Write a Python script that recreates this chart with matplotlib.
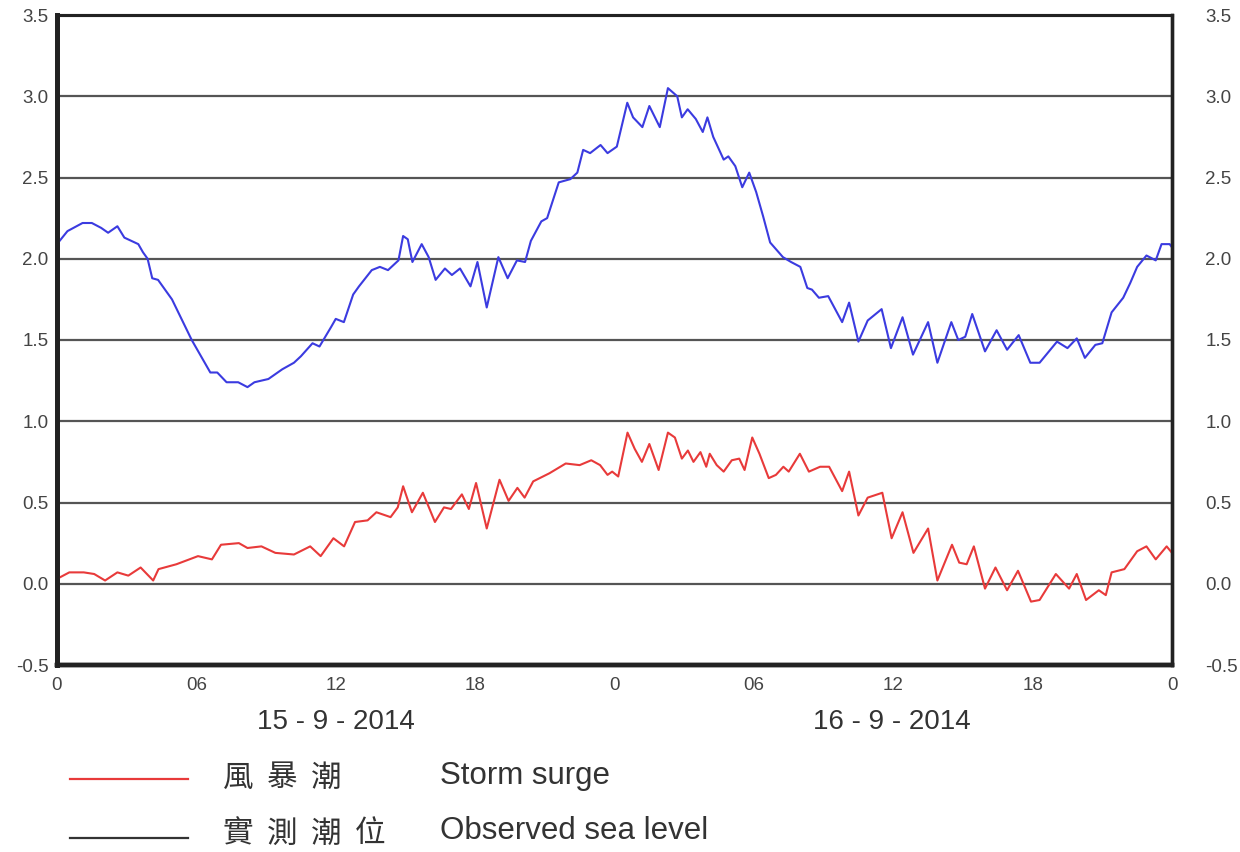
import matplotlib.pyplot as plt

# hours from 00:00 on 15-9-2014
BLUE_H = [0.0, 0.45, 1.1, 1.5, 1.9, 2.2, 2.6, 2.9, 3.5, 3.7, 3.9, 4.1, 4.35, 4.95, 5.8, 6.6, 6.9, 7.3, 7.8,
          8.2, 8.5, 9.1, 9.7, 10.2, 10.5, 11.0, 11.3, 11.8, 12.0, 12.35, 12.75, 13.0, 13.55, 13.9, 14.25,
          14.7, 14.9, 15.1, 15.3, 15.7, 16.0, 16.3, 16.7, 17.0, 17.35, 17.8, 18.1, 18.5, 19.0, 19.4, 19.8,
          20.15, 20.4, 20.85, 21.1, 21.6, 22.1, 22.4, 22.65, 22.95, 23.4, 23.7, 24.1, 24.55, 24.8, 25.2,
          25.5, 25.95, 26.3, 26.7, 26.9, 27.15, 27.5, 27.8, 28.0, 28.25, 28.7, 28.9, 29.2, 29.5, 29.8,
          30.1, 30.4, 30.7, 31.25, 31.6, 32.0, 32.3, 32.5, 32.8, 33.2, 33.8, 34.1, 34.5, 34.9, 35.5,
          35.9, 36.4, 36.85, 37.5, 37.9, 38.5, 38.8, 39.1, 39.4, 39.95, 40.45, 40.9, 41.4, 41.9, 42.3,
          43.05, 43.5, 43.9, 44.25, 44.7, 45.0, 45.4, 45.9, 46.2, 46.5, 46.9, 47.3, 47.55, 47.9, 48.0]
BLUE_V = [2.09, 2.17, 2.22, 2.22, 2.19, 2.16, 2.20, 2.13, 2.09, 2.04, 2.00, 1.88, 1.87, 1.75, 1.50, 1.30, 1.30,
          1.24, 1.24, 1.21, 1.24, 1.26, 1.32, 1.36, 1.40, 1.48, 1.46, 1.58, 1.63, 1.61, 1.78, 1.83, 1.93,
          1.95, 1.93, 1.99, 2.14, 2.12, 1.98, 2.09, 2.01, 1.87, 1.94, 1.90, 1.94, 1.83, 1.98, 1.70, 2.01,
          1.88, 1.99, 1.98, 2.11, 2.23, 2.25, 2.47, 2.49, 2.53, 2.67, 2.65, 2.70, 2.65, 2.69, 2.96, 2.87,
          2.81, 2.94, 2.81, 3.05, 3.00, 2.87, 2.92, 2.86, 2.78, 2.87, 2.75, 2.61, 2.63, 2.57, 2.44, 2.53,
          2.41, 2.26, 2.10, 2.01, 1.98, 1.95, 1.82, 1.81, 1.76, 1.77, 1.61, 1.73, 1.49, 1.62, 1.69, 1.45,
          1.64, 1.41, 1.61, 1.36, 1.61, 1.50, 1.52, 1.66, 1.43, 1.56, 1.44, 1.53, 1.36, 1.36, 1.49, 1.45,
          1.51, 1.39, 1.47, 1.48, 1.67, 1.76, 1.85, 1.95, 2.02, 1.99, 2.09, 2.09, 2.07]

RED_H = [0.0, 0.53, 1.15, 1.6, 2.07, 2.6, 3.07, 3.6, 4.14, 4.37, 5.14, 6.07, 6.67, 7.06, 7.83, 8.2, 8.8, 9.4,
         10.2, 10.9, 11.35, 11.9, 12.36, 12.83, 13.37, 13.75, 14.36, 14.67, 14.9, 15.28, 15.75, 16.27,
         16.66, 16.96, 17.43, 17.73, 18.04, 18.5, 19.05, 19.44, 19.82, 20.13, 20.5, 21.2, 21.9, 22.5, 23.0,
         23.38, 23.7, 23.9, 24.16, 24.56, 24.87, 25.18, 25.5, 25.9, 26.3, 26.6, 26.9, 27.16, 27.4, 27.7,
         27.95, 28.1, 28.4, 28.7, 29.05, 29.37, 29.6, 29.93, 30.24, 30.64, 30.95, 31.27, 31.5, 31.98,
         32.37, 32.85, 33.24, 33.8, 34.1, 34.5, 34.9, 35.53, 35.93, 36.4, 36.87, 37.5, 37.9, 38.53, 38.84,
         39.16, 39.47, 39.95, 40.4, 40.9, 41.37, 41.93, 42.3, 43.0, 43.57, 43.9, 44.3, 44.85, 45.15, 45.4,
         45.95, 46.5, 46.9, 47.3, 47.77, 48.0]
RED_V = [0.03, 0.07, 0.07, 0.06, 0.02, 0.07, 0.05, 0.10, 0.02, 0.09, 0.12, 0.17, 0.15, 0.24, 0.25, 0.22, 0.23,
         0.19, 0.18, 0.23, 0.17, 0.28, 0.23, 0.38, 0.39, 0.44, 0.41, 0.47, 0.60, 0.44, 0.56, 0.38, 0.47,
         0.46, 0.55, 0.46, 0.62, 0.34, 0.64, 0.51, 0.59, 0.53, 0.63, 0.68, 0.74, 0.73, 0.76, 0.73, 0.67,
         0.69, 0.66, 0.93, 0.83, 0.75, 0.86, 0.70, 0.93, 0.90, 0.77, 0.82, 0.75, 0.81, 0.72, 0.80, 0.73,
         0.69, 0.76, 0.77, 0.70, 0.90, 0.80, 0.65, 0.67, 0.72, 0.69, 0.80, 0.69, 0.72, 0.72, 0.57, 0.69,
         0.42, 0.53, 0.56, 0.28, 0.44, 0.19, 0.34, 0.02, 0.24, 0.13, 0.12, 0.23, -0.03, 0.10, -0.04, 0.08,
         -0.11, -0.10, 0.06, -0.03, 0.06, -0.10, -0.04, -0.07, 0.07, 0.09, 0.20, 0.23, 0.15, 0.23, 0.19]

X_TICKS = [0, 6, 12, 18, 24, 30, 36, 42, 48]
X_LABELS = ['0', '06', '12', '18', '0', '06', '12', '18', '0']
Y_TICKS = [-0.5, 0.0, 0.5, 1.0, 1.5, 2.0, 2.5, 3.0, 3.5]
DATES = ['15 - 9 - 2014', '16 - 9 - 2014']

plt.rcParams['font.family'] = ['Liberation Sans', 'DejaVu Sans']
W, H = 1240, 852
fig = plt.figure(figsize=(W / 100, H / 100), dpi=100)
ax = fig.add_axes([57 / W, 1 - 665 / H, (1172 - 57) / W, (665 - 15) / H])

ax.set_xlim(0, 48)
ax.set_ylim(-0.5, 3.5)
for y in Y_TICKS[1:-1]:
    ax.axhline(y, color='#555555', lw=1.6, zorder=1)

ax.plot(BLUE_H, BLUE_V, color='#3b3be0', lw=1.5, zorder=3, solid_joinstyle='round')
ax.plot(RED_H, RED_V, color='#e83a3a', lw=1.5, zorder=3, solid_joinstyle='round')

ax.set_xticks(X_TICKS)
ax.set_xticklabels(X_LABELS)
ax.set_yticks(Y_TICKS)
ax.set_yticklabels([f'{v:.1f}' for v in Y_TICKS])
ax.tick_params(axis='both', length=0, labelsize=13.5, labelcolor='#444444')
ax.tick_params(axis='x', pad=9)
ax.tick_params(axis='y', pad=6)

ax2 = ax.twinx()
ax2.set_ylim(-0.5, 3.5)
ax2.set_yticks(Y_TICKS)
ax2.set_yticklabels([f'{v:.1f}' for v in Y_TICKS])
ax2.tick_params(axis='y', length=0, labelsize=13.5, labelcolor='#444444', pad=24)

for a in (ax, ax2):
    a.spines['left'].set_linewidth(3.5)
    a.spines['bottom'].set_linewidth(3.2)
    a.spines['right'].set_linewidth(2.4)
    a.spines['top'].set_linewidth(2.2)
    for s in a.spines.values():
        s.set_color('#222222')

# date labels under the axis
fig.text(336 / W, 1 - 722 / H, DATES[0], fontsize=20, color='#333333', ha='center', va='center')
fig.text(892 / W, 1 - 722 / H, DATES[1], fontsize=20, color='#333333', ha='center', va='center')

# hand-made legend
fig.add_artist(plt.Line2D([70 / W, 188 / W], [1 - 779 / H] * 2, color='#e83a3a', lw=1.6))
fig.add_artist(plt.Line2D([70 / W, 188 / W], [1 - 838 / H] * 2, color='#333333', lw=1.6))
for i, ch in enumerate('風暴潮'):
    fig.text((238 + 44 * i) / W, 1 - 778 / H, ch, fontsize=22, color='#333333', ha='center', va='center',
             family=['Noto Sans CJK TC', 'DejaVu Sans'], fontweight='light')
for i, ch in enumerate('實測潮位'):
    fig.text((238 + 44 * i) / W, 1 - 834 / H, ch, fontsize=22, color='#333333', ha='center', va='center',
             family=['Noto Sans CJK TC', 'DejaVu Sans'], fontweight='light')
fig.text(440 / W, 1 - 776 / H, 'Storm surge', fontsize=22.5, color='#333333', ha='left', va='center')
fig.text(440 / W, 1 - 831 / H, 'Observed sea level', fontsize=22.5, color='#333333', ha='left', va='center')

fig.savefig('out.png', dpi=100)
